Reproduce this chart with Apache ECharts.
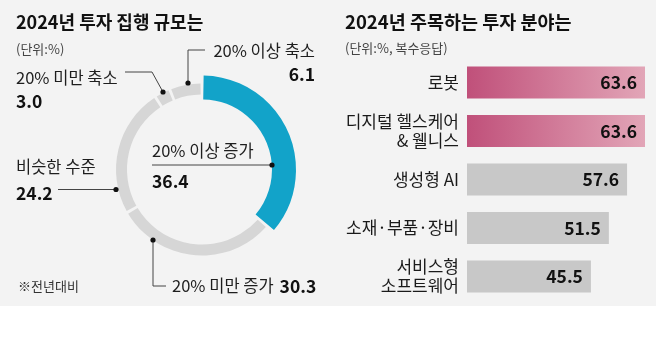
<!DOCTYPE html>
<html>
<head>
<meta charset="utf-8">
<script src="https://cdn.jsdelivr.net/npm/echarts@6/dist/echarts.min.js"></script>
<style>
html,body{margin:0;padding:0;background:#fff;}
#c{width:658px;height:339px;}
</style>
</head>
<body>
<div id="c"></div>
<script>
// ---- data ----
const ringNames = ['20% 이상 증가', '20% 미만 증가', '비슷한 수준', '20% 미만 축소', '20% 이상 축소'];
const ringValues = [36.4, 30.3, 24.2, 3.0, 6.1];
const barCategories = ['로봇', '디지털 헬스케어\n& 웰니스', '생성형 AI', '소재·부품·장비', '서비스형\n소프트웨어'];
const barValues = [63.6, 63.6, 57.6, 51.5, 45.5];

// ---- layout / style ----
const FONT = '"Noto Sans CJK KR", "Noto Sans", sans-serif';
const PANEL = '#f3f3f3';
const CENTER = [202, 169.5];
// label placement for each ring item (layout only)
const ringLabelLayout = [
  { x: 152, y: 166, align: 'left', lh: 30, single: false, pts: [[272, 165], [152, 165]] },
  { x: 172, y: 286, align: 'left', lh: 26, single: true, pts: [[153, 240], [153, 286], [166, 286]] },
  { x: 16, y: 180, align: 'left', lh: 26, single: false, pts: [[116, 189.5], [58, 189.5]] },
  { x: 16, y: 89.5, align: 'left', lh: 23, single: false, pts: [[163, 92], [152, 72], [125, 72]] },
  { x: 315, y: 62.5, align: 'right', lh: 23, single: false, pts: [[188, 83], [188, 50], [205, 50]] }
];

const chart = echarts.init(document.getElementById('c'), null, { renderer: 'canvas' });

const fmt = v => Number(v).toFixed(1);

const ringData = ringNames.map((n, i) => ({ name: n, value: ringValues[i] }));

const rich = {};
[23, 26, 30].forEach(h => {
  rich['n' + h] = { fontSize: 16.5, color: '#1e1e1e', fontFamily: FONT, lineHeight: h };
  rich['v' + h] = { fontSize: 17.5, fontWeight: 'bold', color: '#111', fontFamily: FONT, lineHeight: h };
});
rich.vs = { fontSize: 17.5, fontWeight: 'bold', color: '#111', fontFamily: FONT, padding: [0, 0, 0, 6] };

const graphics = [
  { type: 'rect', z: -10, silent: true, shape: { x: 0, y: 0, width: 656, height: 306 }, style: { fill: PANEL } },
  { type: 'text', style: { text: '2024년 투자 집행 규모는', x: 16, y: 22, verticalAlign: 'middle', font: 'bold 18px ' + FONT, fill: '#111' } },
  { type: 'text', style: { text: '(단위:%)', x: 16, y: 49, verticalAlign: 'middle', font: '13px ' + FONT, fill: '#444' } },
  { type: 'text', style: { text: '※전년대비', x: 18, y: 286, verticalAlign: 'middle', font: '13px ' + FONT, fill: '#333' } },
  { type: 'text', style: { text: '2024년 주목하는 투자 분야는', x: 345, y: 22, verticalAlign: 'middle', font: 'bold 18.5px ' + FONT, fill: '#111' } },
  { type: 'text', style: { text: '(단위:%, 복수응답)', x: 345, y: 48.5, verticalAlign: 'middle', font: '13px ' + FONT, fill: '#444' } }
];
ringLabelLayout.forEach(l => {
  graphics.push({ type: 'circle', z: 20, silent: true, shape: { cx: l.pts[0][0], cy: l.pts[0][1], r: 2.6 }, style: { fill: '#111' } });
});

const option = {
  animation: false,
  backgroundColor: '#ffffff',
  graphic: graphics,
  series: [
    {
      type: 'pie',
      name: 'ring',
      center: CENTER,
      radius: [75, 86],
      startAngle: 90,
      clockwise: true,
      padAngle: 2,
      avoidLabelOverlap: false,
      data: ringData,
      itemStyle: {
        color: p => (p.dataIndex === 0 ? 'rgba(0,0,0,0)' : '#d6d6d6')
      },
      emphasis: { disabled: true },
      label: {
        show: true,
        position: 'outside',
        rich: rich,
        formatter: p => {
          const l = ringLabelLayout[p.dataIndex];
          if (l.single) return '{n' + l.lh + '|' + p.name + '}{vs|' + fmt(p.value) + '}';
          return '{n' + l.lh + '|' + p.name + '}\n{v' + l.lh + '|' + fmt(p.value) + '}';
        }
      },
      labelLine: { show: true, smooth: false, lineStyle: { color: '#444', width: 1 } },
      labelLayout: params => {
        const l = ringLabelLayout[params.dataIndex];
        return { x: l.x, y: l.y, align: l.align, verticalAlign: 'middle', labelLinePoints: l.pts };
      }
    },
    {
      type: 'pie',
      name: 'highlight',
      center: CENTER,
      radius: [70, 94],
      startAngle: 90,
      clockwise: true,
      padAngle: 2,
      silent: true,
      data: ringData,
      itemStyle: {
        color: p => (p.dataIndex === 0 ? '#12a3c9' : 'rgba(0,0,0,0)')
      },
      label: { show: false },
      labelLine: { show: false },
      z: 3
    },
    {
      type: 'bar',
      xAxisIndex: 0,
      yAxisIndex: 0,
      data: barValues,
      barWidth: 32,
      itemStyle: {
        color: p => (p.dataIndex < 2
          ? new echarts.graphic.LinearGradient(0, 0, 1, 0, [
              { offset: 0, color: '#c0507a' },
              { offset: 1, color: '#e2a5b7' }
            ])
          : '#c8c8c8')
      },
      emphasis: { disabled: true },
      label: {
        show: true,
        position: 'insideRight',
        distance: 8,
        formatter: p => fmt(p.value),
        fontSize: 17.5,
        fontWeight: 'bold',
        color: '#111',
        fontFamily: FONT
      }
    }
  ],
  grid: { left: 467, top: 58.25, width: 179.2, height: 242.5 },
  xAxis: { type: 'value', min: 4, max: 64, show: false },
  yAxis: {
    type: 'category',
    inverse: true,
    data: barCategories,
    axisLine: { show: false },
    axisTick: { show: false },
    splitLine: { show: false },
    axisLabel: {
      margin: 8,
      fontSize: 17,
      lineHeight: 19,
      color: '#1a1a1a',
      fontFamily: FONT,
      align: 'right'
    }
  }
};

chart.setOption(option);
</script>
</body>
</html>
